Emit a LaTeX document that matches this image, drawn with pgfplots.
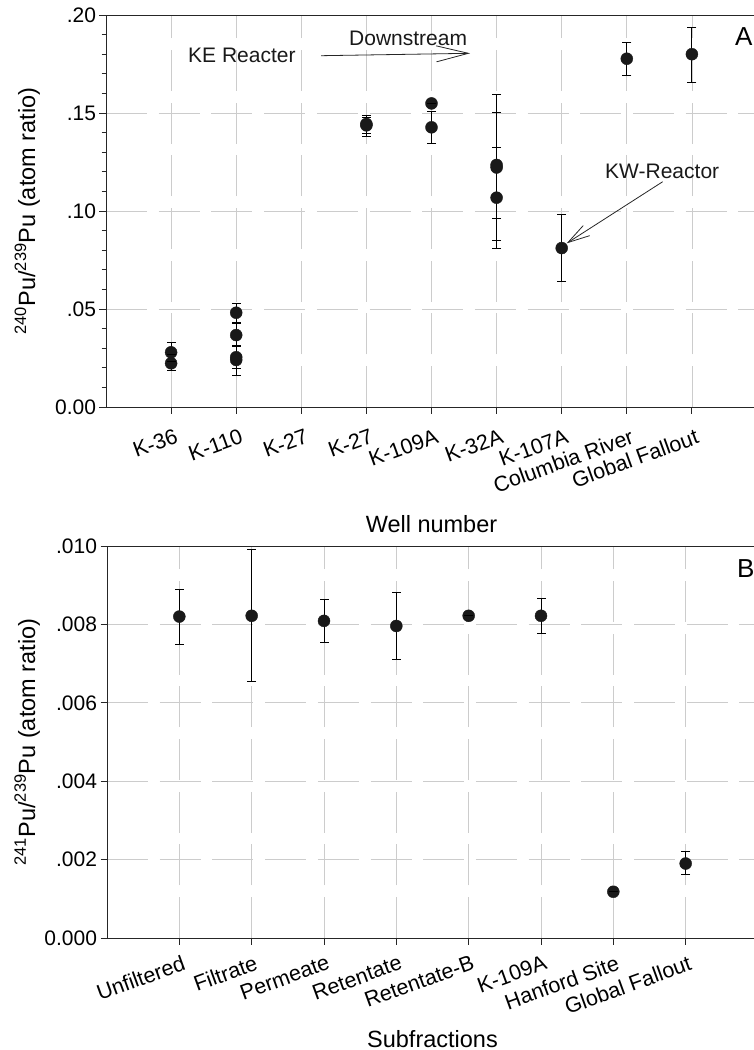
\documentclass[border=0pt]{standalone}
\usepackage{fontspec}
\setmainfont{Liberation Sans}
\usepackage{pgfplots}
\usepackage{pgfplotstable}
\pgfplotsset{compat=1.18}
\usetikzlibrary{arrows.meta}

% top panel: 240Pu/239Pu, x = well index
\pgfplotstableread{
x y ep em
1 0.0279 0.0051 0.0045
1 0.0223 0.0045 0.0039
2 0.0481 0.0045 0.0051
2 0.0367 0.0060 0.0054
2 0.0254 0.0060 0.0057
2 0.0240 0.0070 0.0080
4 0.1444 0.0046 0.0062
4 0.1437 0.0040 0.0040
5 0.1549 0 0
5 0.1427 0.0079 0.0082
6 0.1235 0.0358 0.0383
6 0.1222 0.0280 0.0261
6 0.1068 0.0257 0.0257
7 0.0811 0.0169 0.0168
8 0.1777 0.0083 0.0085
9 0.1800 0.0137 0.0142
}\wellratio

% bottom panel: 241Pu/239Pu, x = subfraction index
\pgfplotstableread{
x y ep em
1 0.00820 0.00070 0.00070
2 0.00822 0.00170 0.00168
3 0.00809 0.00055 0.00056
4 0.00796 0.00085 0.00085
5 0.00822 0 0
6 0.00822 0.00044 0.00045
7 0.00118 0 0
8 0.00190 0.00030 0.00029
}\subratio

\pgfplotsset{
  panel/.style={
    scale only axis, width=651pt, height=392pt,
    axis line style={line width=0.9pt, black!85},
    tick style={line width=0.9pt, black!85},
    tick align=outside, major tick length=6.5pt, minor tick length=4.3pt,
    xtick pos=left, ytick pos=left,
    grid=major,
    major grid style={draw=black!20, line width=0.8pt, dash pattern=on 41pt off 11.7pt},
    scaled ticks=false,
    tick label style={font=\fontsize{21}{25}\selectfont},
    label style={font=\fontsize{23.5}{28}\selectfont},
  },
  pts/.style={only marks, mark=*, mark size=6pt, color=black!90,
    mark options={fill=black!90, draw=black!90},
    error bars/.cd, y dir=both, y explicit, error mark=none,
    error bar style={line width=0.9pt, black}},
  caps/.style={only marks, mark=-, mark size=4.5pt,
    mark options={line width=0.9pt, draw=black}},
}

\begin{document}
\begin{tikzpicture}[x=1pt, y=1pt]
\path[use as bounding box] (0,0) rectangle (754,-1050);
\clip (0,0) rectangle (754,-1050);

\begin{axis}[panel,
  at={(106pt,-407pt)}, anchor=south west,
  xmin=0, xmax=10, ymin=0, ymax=0.2,
  xtick={1,...,9},
  xticklabels={K-36,K-110,K-27,K-27,K-109A,K-32A,K-107A,Columbia River,Global Fallout},
  xticklabel style={font=\fontsize{21.5}{25}\selectfont, inner sep=0pt,
    xshift=3pt, yshift=-14.5pt, rotate=20, anchor=north east},
  ytick={0,0.05,0.1,0.15,0.2},
  yticklabels={0.00,.05,.10,.15,.20},
  minor y tick num=4,
  xlabel={Well number},
  xlabel style={at={(axis description cs:0.5,0)}, anchor=base, yshift=-125pt},
  ylabel={\textsuperscript{240}Pu/\textsuperscript{239}Pu (atom ratio)},
  ylabel style={at={(axis description cs:-0.109,0.5)}, anchor=base},
]
\addplot[pts] table[x=x, y=y, y error plus=ep, y error minus=em] {\wellratio};
\addplot[caps] table[x=x, y expr=\thisrow{y}+\thisrow{ep}] {\wellratio};
\addplot[caps] table[x=x, y expr=\thisrow{y}-\thisrow{em}] {\wellratio};
\end{axis}

\begin{axis}[panel,
  at={(107pt,-938pt)}, anchor=south west,
  xmin=0, xmax=9, ymin=0, ymax=0.010,
  xtick={1,...,8},
  xticklabels={Unfiltered,Filtrate,Permeate,Retentate,Retentate-B,K-109A,Hanford Site,Global Fallout},
  xticklabel style={font=\fontsize{21.5}{25}\selectfont, inner sep=0pt,
    xshift=2pt, yshift=-10pt, rotate=20, anchor=north east},
  ytick={0,0.002,0.004,0.006,0.008,0.010},
  yticklabels={0.000,.002,.004,.006,.008,.010},
  xlabel={Subfractions},
  xlabel style={at={(axis description cs:0.5,0)}, anchor=base, yshift=-109pt},
  ylabel={\textsuperscript{241}Pu/\textsuperscript{239}Pu (atom ratio)},
  ylabel style={at={(axis description cs:-0.1106,0.5)}, anchor=base},
]
\addplot[pts] table[x=x, y=y, y error plus=ep, y error minus=em] {\subratio};
\addplot[caps] table[x=x, y expr=\thisrow{y}+\thisrow{ep}] {\subratio};
\addplot[caps] table[x=x, y expr=\thisrow{y}-\thisrow{em}] {\subratio};
\end{axis}

% annotations
\begin{scope}[font=\fontsize{21}{25}\selectfont, text=black!90]
\node[anchor=base west, inner sep=0] at (188,-62) {KE Reacter};
\node[anchor=base west, inner sep=0] at (349,-45) {Downstream};
\node[anchor=base west, inner sep=0] at (605,-178.3) {KW-Reactor};
\end{scope}
\draw[line width=0.8pt, black!85, -{Straight Barb[length=32pt, width=16pt]}] (321,-55.7) -- (470,-53.3);
\draw[line width=0.8pt, black!85, -{Straight Barb[length=22pt, width=12pt]}] (662.7,-181.7) -- (566.7,-243.3);
\node[anchor=base west, inner sep=0, font=\fontsize{26}{30}\selectfont] at (735,-45) {A};
\node[anchor=base west, inner sep=0, font=\fontsize{26}{30}\selectfont] at (737,-577) {B};
\end{tikzpicture}
\end{document}
